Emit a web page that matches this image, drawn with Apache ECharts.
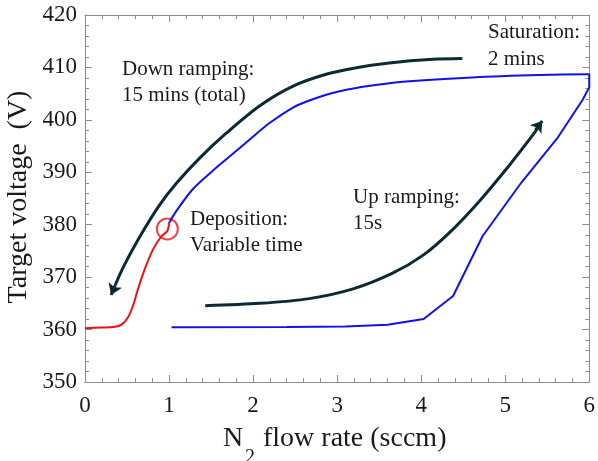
<!DOCTYPE html>
<html>
<head>
<meta charset="utf-8">
<script src="https://cdn.jsdelivr.net/npm/echarts@6/dist/echarts.min.js"></script>
<style>
  html, body { margin: 0; padding: 0; background: #fff; }
  #chart { width: 598px; height: 461px; }
</style>
</head>
<body>
<div id="chart"></div>
<script>
  // data
  // up ramping (lower blue branch, straight segments) then up the right edge
  const blueUpX = [1.03, 2.4, 3.1, 3.6, 4.03, 4.38, 4.73, 5.19, 5.62, 5.92, 6.0, 6.0]
  const blueUpY = [360.45, 360.5, 360.6, 360.9, 362.0, 366.4, 377.8, 388.0, 396.5, 403.8, 406.2, 408.7]
  // saturation + down ramping (upper blue branch)
  const blueDownX = [6.0, 5.41, 4.61, 3.82, 3.35, 3.03, 2.87, 2.63, 2.47, 2.2, 2.04, 1.72, 1.52, 1.29, 1.09, 1.0]
  const blueDownY = [408.7, 408.55, 408.1, 407.3, 406.4, 405.45, 404.8, 403.45, 402.3, 399.45, 397.35, 393.0, 390.3, 386.9, 382.7, 380.3]
  // deposition (red)
  const redX = [1.0, 0.98, 0.91, 0.81, 0.71, 0.63, 0.57, 0.51, 0.44, 0.34, 0.2, 0]
  const redY = [380.3, 378.8, 377.8, 375.3, 371.5, 367.7, 364.5, 362.3, 361.0, 360.5, 360.4, 360.25]
  // guide arrows
  const downArrowX = [4.49, 4.14, 3.62, 3.23, 2.87, 2.47, 2.08, 1.68, 1.37, 1.09, 0.88, 0.65, 0.46, 0.36]
  const downArrowY = [411.7, 411.55, 410.85, 409.95, 408.7, 406.4, 402.7, 397.45, 392.8, 387.95, 383.6, 377.65, 372.05, 368.5]
  const upArrowX = [1.43, 2.08, 2.67, 3.19, 3.66, 4.02, 4.34, 4.69, 5.05, 5.3, 5.4]
  const upArrowY = [364.55, 365.0, 365.9, 367.75, 370.75, 374.15, 378.55, 384.45, 391.35, 396.5, 398.7]
  const downArrowHead = [[0.36, 368.5], [0.31, 366.6]]
  const upArrowHead = [[5.36, 398.1], [5.44, 399.8]]
  const depositionPoint = [0.98, 379.2]
  const xTicks = [0, 6, 1]
  const yTicks = [350, 420, 10]

  const zip = (xs, ys) => xs.map((x, i) => [x, ys[i]])

  const FONT = 'Liberation Serif'
  const TXT = '#1a1a1a'
  const FRAME = '#8c8c8c'
  const DARK = '#0b2a35'
  const BLUE = '#1010f0'
  const RED = '#f01010'

  const tickStyle = { color: FRAME, width: 1 }

  function makeAxis(range, pos, labels, minorSplit) {
    return {
      type: 'value',
      position: pos,
      min: range[0],
      max: range[1],
      interval: range[2],
      axisLine: { show: true, onZero: false, lineStyle: tickStyle },
      axisTick: { show: true, inside: true, length: 7, lineStyle: tickStyle },
      minorTick: { show: true, splitNumber: minorSplit, length: 4, lineStyle: tickStyle },
      splitLine: { show: false },
      axisLabel: {
        show: labels,
        fontFamily: FONT,
        fontSize: 23,
        color: TXT,
        margin: pos === 'bottom' ? 12 : 8
      }
    }
  }

  function curve(name, xs, ys, color, width, smooth) {
    return {
      name: name,
      type: 'line',
      data: zip(xs, ys),
      smooth: smooth,
      showSymbol: false,
      symbol: 'none',
      lineStyle: { color: color, width: width }
    }
  }

  const chart = echarts.init(document.getElementById('chart'))

  const option = {
    animation: false,
    backgroundColor: '#fff',
    grid: { left: 85, right: 8, top: 15, bottom: 79 },
    xAxis: [makeAxis(xTicks, 'bottom', true, 5), makeAxis(xTicks, 'top', false, 5)],
    yAxis: [makeAxis(yTicks, 'left', true, 5), makeAxis(yTicks, 'right', false, 5)],
    series: [
      curve('up ramp', blueUpX, blueUpY, BLUE, 2, false),
      curve('down ramp', blueDownX, blueDownY, BLUE, 2, 0.25),
      curve('deposition', redX, redY, RED, 2, 0.3),
      curve('down arrow', downArrowX, downArrowY, DARK, 3, 0.3),
      curve('up arrow', upArrowX, upArrowY, DARK, 3, 0.3),
      {
        name: 'arrow heads',
        type: 'lines',
        coordinateSystem: 'cartesian2d',
        symbol: ['none', 'arrow'],
        symbolSize: [0, 11],
        lineStyle: { color: DARK, width: 3, opacity: 1 },
        data: [{ coords: downArrowHead }, { coords: upArrowHead }]
      },
      {
        name: 'circle',
        type: 'scatter',
        data: [depositionPoint],
        symbol: 'circle',
        symbolSize: 21,
        itemStyle: { color: 'rgba(0,0,0,0)', borderColor: RED, borderWidth: 2 }
      }
    ],
    graphic: [
      {
        type: 'text', left: 122, top: 56,
        style: { text: 'Down ramping:\n15 mins (total)', font: '21px "' + FONT + '"', lineHeight: 26, fill: TXT }
      },
      {
        type: 'text', left: 488, top: 19,
        style: { text: 'Saturation:\n2 mins', font: '21px "' + FONT + '"', lineHeight: 27, fill: TXT }
      },
      {
        type: 'text', left: 190, top: 206,
        style: { text: 'Deposition:\nVariable time', font: '21px "' + FONT + '"', lineHeight: 26, fill: TXT }
      },
      {
        type: 'text', left: 353, top: 184,
        style: { text: 'Up ramping:\n15s', font: '21px "' + FONT + '"', lineHeight: 26, fill: TXT }
      },
      // x axis title with subscript
      {
        type: 'text', left: 223, top: 425,
        style: { text: 'N', font: '28px "' + FONT + '"', lineHeight: 28, fill: TXT }
      },
      {
        type: 'text', left: 245, top: 448,
        style: { text: '2', font: '20px "' + FONT + '"', lineHeight: 20, fill: TXT }
      },
      {
        type: 'text', left: 263, top: 425,
        style: { text: 'flow rate (sccm)', font: '28px "' + FONT + '"', lineHeight: 28, fill: TXT }
      },
      // y axis title
      {
        type: 'text', x: 19, y: 197, rotation: Math.PI / 2,
        style: {
          text: 'Target voltage  (V)', font: '28px "' + FONT + '"',
          align: 'center', verticalAlign: 'middle', fill: TXT
        }
      }
    ]
  }

  chart.setOption(option)
</script>
</body>
</html>
